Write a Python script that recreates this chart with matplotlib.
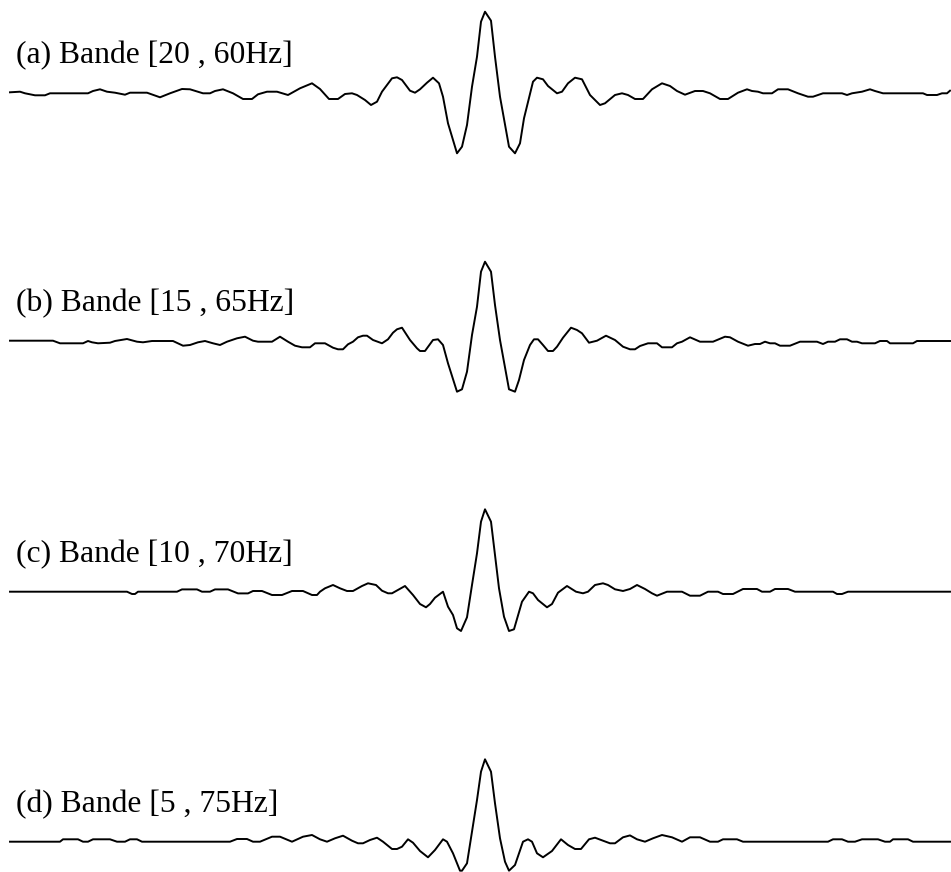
import matplotlib.pyplot as plt

# Wavelets filtered in four frequency bands (time in samples, amplitude in a.u.)
labels = ['(a) Bande [20 , 60Hz]', '(b) Bande [15 , 65Hz]',
          '(c) Bande [10 , 70Hz]', '(d) Bande [5 , 75Hz]']

t_a = [10, 20, 25, 35, 45, 50, 88, 93, 100, 107, 115, 125, 130, 147, 160, 170, 182, 190, 203, 210,
       215, 223, 233, 243, 252, 258, 267, 277, 288, 300, 312, 320, 329, 338, 345, 352, 357, 365, 371, 377,
       382, 392, 397, 402, 410, 415, 420, 427, 433, 439, 443, 448, 457, 462, 467, 472, 477, 481, 485, 491,
       495, 500, 509, 515, 520, 524, 533, 537, 543, 548, 557, 562, 568, 575, 582, 590, 600, 605, 615, 622,
       628, 635, 643, 652, 662, 670, 677, 685, 695, 703, 710, 720, 728, 738, 747, 752, 758, 763, 772, 778,
       788, 798, 808, 813, 823, 842, 847, 852, 862, 870, 875, 883, 923, 927, 937, 942, 947, 950]
y_a = [0.7, 1.3, -0.3, -2.3, -2.3, -0.3, -0.3, 2, 3.7, 1.3, 0.3, -1.7, 0.3, 0.3, -4.3, -0.3, 4, 3.7, -0.3, -0.3,
       2, 3.7, -0.3, -6, -6, -1.3, 1.3, 1.3, -2, 4.7, 9.7, 4, -6, -6, -1, -0.3, -2, -7, -12, -8.7,
       1.3, 14.7, 15.7, 13, 2.3, 0.3, 3.7, 10.3, 15.3, 9.7, -3.7, -30.3, -60.3, -53.7, -32, 6.3, 36.3, 71.3, 81.3, 72.3,
       36.3, -3.7, -53.7, -60.3, -50.3, -25.3, 11.3, 15.3, 13.7, 7, -0.3, 1.3, 9.7, 15.3, 13.7, -2, -12, -10.3, -2, -0.3,
       -2, -6, -6, 3.7, 9.7, 7, 2, -1.7, 2, 2, -0.3, -6, -6, 0.3, 3.7, 2, 1.3, -0.3, -0.3, 3.7,
       3.7, -0.3, -3.7, -3.7, -0.3, -0.3, -2, -0.3, 1.3, 3.7, 2, -0.3, -0.3, -2, -2, -0.3, -0.3, 2.3]

t_b = [10, 53, 60, 83, 88, 92, 98, 110, 115, 127, 137, 143, 152, 173, 183, 190, 198, 205, 213, 220,
       227, 237, 245, 253, 258, 272, 280, 288, 295, 302, 310, 315, 320, 325, 333, 338, 343, 348, 353, 358,
       363, 367, 373, 382, 388, 393, 397, 402, 410, 417, 420, 425, 433, 438, 443, 448, 457, 462, 467, 472,
       477, 481, 485, 491, 495, 500, 509, 515, 519, 524, 530, 534, 538, 543, 548, 553, 557, 563, 571, 577,
       582, 589, 597, 606, 615, 623, 630, 635, 640, 648, 657, 662, 672, 677, 682, 690, 700, 713, 725, 730,
       738, 748, 755, 760, 765, 770, 775, 780, 790, 800, 817, 823, 828, 835, 840, 847, 852, 857, 862, 875,
       880, 887, 890, 913, 917, 950]
y_b = [0.3, 0.3, -2.3, -2.3, 0, -1.3, -2.3, -1.7, 0, 2, -0.7, -1.3, 0, 0, -4.7, -4, -1.3, 0, -2.3, -4,
       -0.7, 2.7, 4.3, 0.3, -0.7, -0.7, 4.3, -0.7, -4.7, -6.3, -6.3, -2.3, -2.3, -2.3, -6.7, -8.3, -8.3, -3.3, -0.7, 3.7,
       5.3, 5.3, 1, -2.3, 1.7, 8.3, 11.7, 13.3, 1, -7.3, -10, -10, 1, 1.7, -4, -22.3, -50.7, -48.3, -30.7, 6,
       34.3, 69.3, 79.3, 69.3, 36, 1, -48.3, -50.7, -39, -19, -4, 1.7, 1.7, -4, -10, -10, -5.7, 3.3, 13.3, 11,
       7.7, -1.7, 0.3, 5.3, 1, -5.7, -8.3, -8.3, -5, -2.3, -2.3, -6.3, -6.3, -2.3, -0.7, 3.7, -0.7, -0.7, 4.3, 3.7,
       -0.7, -4.7, -3, -3, -0.7, -2.3, -2.3, -4.7, -4.7, -0.7, -0.7, -3, -0.7, -0.7, 1.7, 1.7, -0.7, -0.7, -2.3, -2.3,
       0, 0, -2.3, -2.3, 0, 0]

t_c = [10, 127, 132, 135, 138, 177, 182, 197, 202, 210, 215, 228, 238, 248, 253, 262, 272, 282, 292, 303,
       312, 317, 320, 325, 333, 340, 347, 353, 362, 368, 376, 382, 388, 392, 405, 413, 420, 426, 430, 435,
       443, 448, 453, 457, 461, 467, 472, 477, 481, 485, 491, 495, 499, 504, 509, 514, 522, 529, 533, 538,
       547, 552, 558, 567, 576, 583, 588, 595, 603, 608, 615, 623, 630, 637, 645, 652, 657, 667, 682, 690,
       700, 708, 718, 723, 733, 743, 757, 762, 770, 775, 788, 795, 833, 837, 842, 848, 950]
y_c = [0, 0, -2.3, -2.3, 0, 0, 2.3, 2.3, 0, 0, 2.3, 2.3, -1.7, -1.7, 0.7, 0.7, -3.3, -3.3, 0.7, 0.7,
       -3.3, -3.3, 0, 3.4, 6.7, 3.4, 0.7, 0.7, 5.7, 8.4, 6.7, 1, -1.6, -1.6, 5.7, -3.3, -12.3, -15.6, -12.3, -6,
       0, -15, -23.3, -36.6, -39.3, -25.6, 6.7, 38.4, 70, 82.4, 70, 36.7, 3.4, -25, -39.3, -37.6, -10, 0, -1.6, -8.3,
       -15.6, -12.3, -1, 5.7, 0, -1.6, 0, 6.7, 8.4, 6.7, 2.4, 0.7, 2.7, 6.7, 2.7, -1.6, -4, 0, 0, -4,
       -4, 0, 0, -2.3, -2.3, 2.7, 2.7, 0, 0, 2.7, 2.7, 0, 0, -2.3, -2.3, 0, 0]

t_d = [10, 60, 63, 78, 83, 88, 93, 110, 117, 125, 130, 137, 142, 230, 237, 247, 253, 260, 272, 280,
       292, 303, 312, 320, 327, 335, 343, 352, 358, 363, 370, 377, 383, 392, 397, 402, 408, 413, 420, 428,
       435, 443, 447, 453, 460, 462, 467, 472, 477, 481, 485, 491, 495, 500, 505, 509, 515, 523, 528, 532,
       537, 543, 552, 561, 568, 575, 581, 589, 595, 603, 610, 615, 623, 630, 637, 645, 653, 662, 672, 682,
       690, 700, 710, 718, 723, 737, 743, 828, 833, 842, 848, 855, 862, 878, 885, 890, 893, 908, 913, 950]
y_d = [0, 0, 2.4, 2.4, 0, 0, 2.4, 2.4, 0, 0, 2.4, 2.4, 0, 0, 2.7, 2.7, 0, 0, 5, 5,
       0, 5, 6.7, 2.4, 0, 3.4, 6, 1, -1.6, -1.6, 1.7, 4, 0, -7.3, -7.3, -5, 2.4, -1, -9.3, -15.6,
       -8.3, 2.4, 0, -11.6, -29, -29, -21.6, 10, 41.7, 70, 82.4, 70, 38.4, 3.4, -20, -29, -23.3, 0, 2.4, 0,
       -11.6, -15.6, -9.3, 2.4, -3.3, -7.3, -7.3, 2.4, 4, 1, -1.6, -1.6, 4.4, 6.3, 2.4, 0, 3.4, 6.7, 4.4, 0,
       4.4, 4.4, 0, 0, 2.4, 2.4, 0, 0, 2.4, 2.4, 0, 0, 2.4, 2.4, 0, 0, 2.4, 2.4, 0, 0]

traces = [(t_a, y_a), (t_b, y_b), (t_c, y_c), (t_d, y_d)]

# figure size in pixels and the baseline row of each trace
W, H = 951, 872
baselines = [93, 341, 591.7, 841.7]

fig = plt.figure(figsize=(W / 100, H / 100), dpi=100)

for (t, y), lab, base in zip(traces, labels, baselines):
    # 1 data unit = 1 pixel in both directions
    ax = fig.add_axes([0, 1 - (base + 70) / H, 1, 160 / H])
    ax.set_xlim(0, W)
    ax.set_ylim(-70, 90)
    ax.axis('off')
    ax.plot(t, y, color='black', linewidth=1.4)
    ax.text(16, 37, lab, va='center', ha='left', fontsize=22.8,
            family='Liberation Serif', color='black')

fig.savefig('out.png', dpi=100)
